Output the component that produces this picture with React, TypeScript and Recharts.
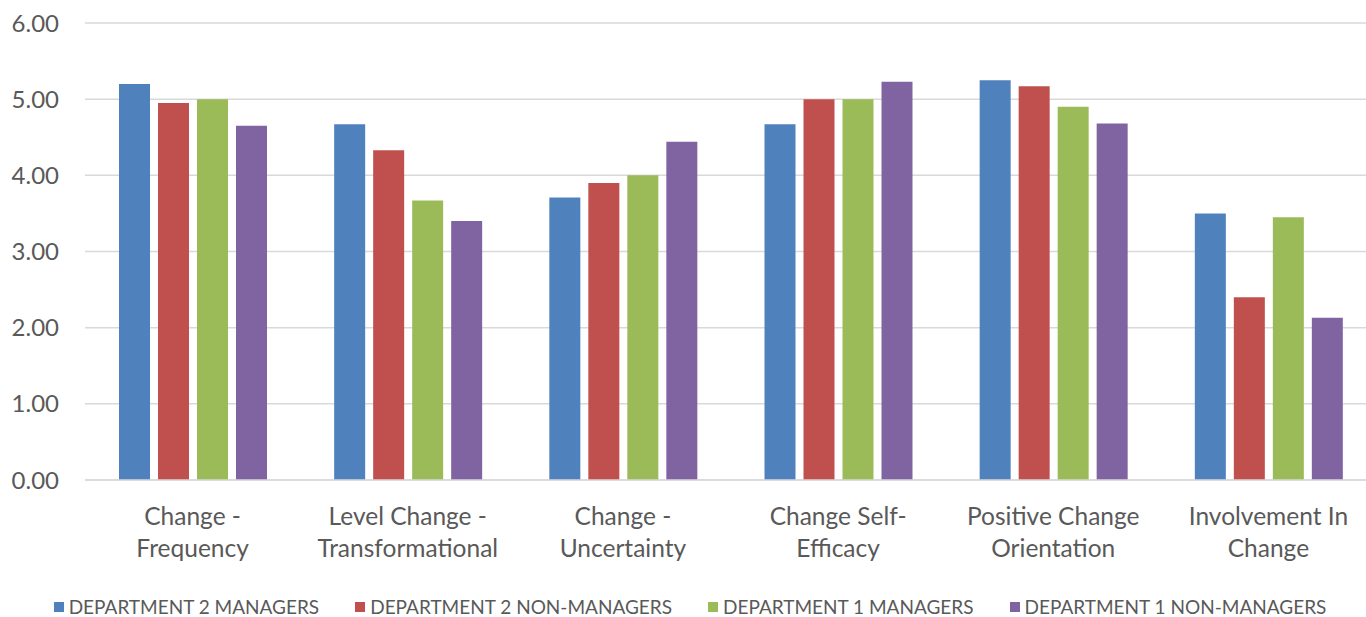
import React from 'react';
import { BarChart, Bar, XAxis, YAxis, CartesianGrid, Legend } from 'recharts';

const categories = [
  'Change -\nFrequency',
  'Level Change -\nTransformational',
  'Change -\nUncertainty',
  'Change Self-\nEfficacy',
  'Positive Change\nOrientation',
  'Involvement In\nChange',
];

const dept2Managers = [5.2, 4.67, 3.71, 4.67, 5.25, 3.5];
const dept2NonManagers = [4.95, 4.33, 3.9, 5.0, 5.17, 2.4];
const dept1Managers = [5.0, 3.67, 4.0, 5.0, 4.9, 3.45];
const dept1NonManagers = [4.65, 3.4, 4.44, 5.23, 4.68, 2.13];

const yTicks = [0, 1, 2, 3, 4, 5, 6];

const series = [
  { key: 'd2m', name: 'DEPARTMENT 2 MANAGERS', color: '#4f81bd', values: dept2Managers },
  { key: 'd2n', name: 'DEPARTMENT 2 NON-MANAGERS', color: '#c0504d', values: dept2NonManagers },
  { key: 'd1m', name: 'DEPARTMENT 1 MANAGERS', color: '#9bbb59', values: dept1Managers },
  { key: 'd1n', name: 'DEPARTMENT 1 NON-MANAGERS', color: '#8064a2', values: dept1NonManagers },
];

const data = categories.map((cat, i) => {
  const row: Record<string, string | number> = { cat };
  series.forEach((s) => {
    row[s.key] = s.values[i];
  });
  return row;
});

const FONT = 'Lato, "Open Sans", sans-serif';
const TEXT = '#595959';

const CategoryTick = (props: any) => {
  const { x, y, payload } = props;
  const lines = String(payload.value).split('\n');
  return (
    <text x={x} y={y} textAnchor="middle" fill={TEXT} fontFamily={FONT} fontSize={24.5}>
      {lines.map((line, i) => (
        <tspan key={i} x={x} dy={i === 0 ? 37 : 32}>
          {line}
        </tspan>
      ))}
    </text>
  );
};

const LegendContent = () => (
  <div
    style={{
      height: 37,
      boxSizing: 'border-box',
      paddingTop: 18,
      paddingLeft: 14,
      display: 'flex',
      justifyContent: 'center',
      alignItems: 'flex-start',
      gap: 36,
      fontFamily: FONT,
      fontSize: 19,
      lineHeight: '18px',
      color: TEXT,
    }}
  >
    {series.map((s) => (
      <div key={s.key} style={{ display: 'flex', alignItems: 'center' }}>
        <span style={{ width: 10, height: 10, background: s.color, marginRight: 5, display: 'inline-block' }} />
        <span>{s.name}</span>
      </div>
    ))}
  </div>
);

export default function App() {
  return (
    <div style={{ position: 'absolute', left: 0, top: 0, width: 1366, height: 617, overflow: 'hidden', background: '#fff' }}>
      <BarChart
        width={1376}
        height={617}
        data={data}
        margin={{ top: 23, right: 0, left: 0, bottom: 0 }}
        barSize={31}
        barGap={8}
      >
        <CartesianGrid vertical={false} stroke="#d9d9d9" strokeWidth={1.5} />
        <XAxis
          dataKey="cat"
          height={100}
          tickLine={false}
          axisLine={{ stroke: '#d9d9d9', strokeWidth: 1.5 }}
          interval={0}
          tick={<CategoryTick />}
        />
        <YAxis
          width={85}
          domain={[0, 6]}
          ticks={yTicks}
          tickFormatter={(v: number) => v.toFixed(2)}
          axisLine={false}
          tickLine={false}
          tickMargin={20}
          tick={{ fill: TEXT, fontFamily: FONT, fontSize: 24 }}
        />
        <Legend
          verticalAlign="bottom"
          content={<LegendContent />}
          wrapperStyle={{ width: 1366, left: 0 }}
        />
        {series.map((s) => (
          <Bar key={s.key} dataKey={s.key} name={s.name} fill={s.color} isAnimationActive={false} />
        ))}
      </BarChart>
    </div>
  );
}
